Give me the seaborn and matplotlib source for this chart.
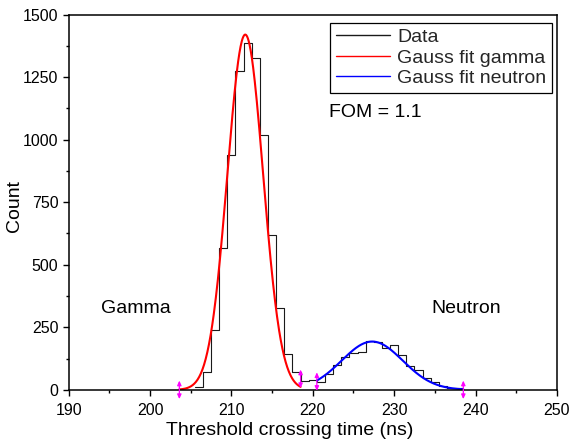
import numpy as np
import pandas as pd
import matplotlib
matplotlib.use("Agg")
import matplotlib.pyplot as plt
from matplotlib.ticker import MultipleLocator
import seaborn as sns

# ---- data ----
bin_centers = [206, 207, 208, 209, 210, 211, 212, 213, 214, 215, 216, 217, 218,
               219, 220, 221, 222, 223, 224, 225, 226, 227, 228, 229, 230, 231,
               232, 233, 234, 235, 236, 237, 238]
counts = [10, 73, 241, 566, 937, 1274, 1385, 1325, 1017, 619, 329, 142, 71,
          37, 40, 30, 62, 99, 130, 148, 151, 194, 191, 168, 180, 141,
          97, 81, 48, 32, 15, 9, 8]

# Gauss fit parameters (amplitude, centre, sigma) and fit ranges
gamma_fit = [1420, 211.7, 2.2]
neutron_fit = [193, 227.3, 3.75]
gamma_range = [203.6, 218.5]
neutron_range = [220.5, 238.5]
marker_levels = [0, 44, 33, 0]

legend_labels = ["Data", "Gauss fit gamma", "Gauss fit neutron"]
fom_text = "FOM = 1.1"
x_ticks = [190, 200, 210, 220, 230, 240, 250]
y_ticks = [0, 250, 500, 750, 1000, 1250, 1500]

# ---- plotting ----
sns.set_theme(style="ticks")
plt.rcParams["font.family"] = ["Liberation Sans", "DejaVu Sans"]

fig = plt.figure(figsize=(5.7, 4.42), dpi=100)
ax = fig.add_axes([0.1205, 0.118, 0.8565, 0.849])

df = pd.DataFrame({"t": bin_centers, "n": counts})
sns.histplot(data=df, x="t", weights="n", binwidth=1,
             binrange=(min(bin_centers) - 0.5, max(bin_centers) + 0.5),
             element="step", fill=False, color="#1a1a1a", linewidth=0.8,
             ax=ax, label=legend_labels[0])


def gauss(x, p):
    a, c, s = p
    return a * np.exp(-(x - c) ** 2 / (2 * s ** 2))


xg = np.linspace(gamma_range[0], gamma_range[1], 300)
xn = np.linspace(neutron_range[0], neutron_range[1], 300)
sns.lineplot(x=xg, y=gauss(xg, gamma_fit), color="#ff0000", linewidth=1.5,
             ax=ax, label=legend_labels[1])
sns.lineplot(x=xn, y=gauss(xn, neutron_fit), color="#0000ff", linewidth=1.5,
             ax=ax, label=legend_labels[2])

# fit-range markers
for xm, ym in zip(gamma_range + neutron_range, marker_levels):
    ax.annotate("", xy=(xm, ym - 37), xytext=(xm, ym + 37),
                arrowprops=dict(arrowstyle="<|-|>,head_length=0.22,head_width=0.1",
                                color="#ff00ff", lw=0.9, shrinkA=0, shrinkB=0),
                annotation_clip=False, zorder=5)

ax.set_xlim(190, 250)
ax.set_ylim(0, 1500)
ax.set_xticks(x_ticks)
ax.set_yticks(y_ticks)
ax.xaxis.set_minor_locator(MultipleLocator(5))
ax.yaxis.set_minor_locator(MultipleLocator(125))
ax.tick_params(axis="both", which="major", direction="out", length=4.5, width=1,
               labelsize=11.5, color="black", labelcolor="black", pad=3)
ax.tick_params(axis="x", which="major", pad=5)
ax.tick_params(axis="both", which="minor", direction="out", length=2.5, width=1,
               color="black")
ax.tick_params(top=False, right=False, which="both")
for sp in ax.spines.values():
    sp.set_visible(True)
    sp.set_color("black")
    sp.set_linewidth(1.1)

ax.set_xlabel("Threshold crossing time (ns)", fontsize=14, color="black")
ax.xaxis.set_label_coords(0.4525, -0.108, transform=ax.transAxes)
ax.xaxis.label.set_va("center")
ax.set_ylabel("Count", fontsize=14, color="black")
ax.yaxis.set_label_coords(-0.111, 0.49, transform=ax.transAxes)
ax.yaxis.label.set_ha("center")
ax.yaxis.label.set_va("center")

ax.text(222.0, 1108, fom_text, fontsize=14, ha="left", va="center", color="black")
ax.text(198.3, 324, "Gamma", fontsize=14, ha="center", va="center", color="black")
ax.text(238.9, 324, "Neutron", fontsize=14, ha="center", va="center", color="black")

leg = ax.legend(loc="upper right", bbox_to_anchor=(0.99, 0.978), borderaxespad=0,
                fontsize=14, handlelength=2.8, handletextpad=0.35,
                labelspacing=0.14, borderpad=0.3, fancybox=False, frameon=True)
leg.get_frame().set_edgecolor("black")
leg.get_frame().set_linewidth(0.9)
leg.get_frame().set_alpha(1)
for line in leg.get_lines():
    line.set_linewidth(1.0)

fig.savefig("out.png", dpi=100)
